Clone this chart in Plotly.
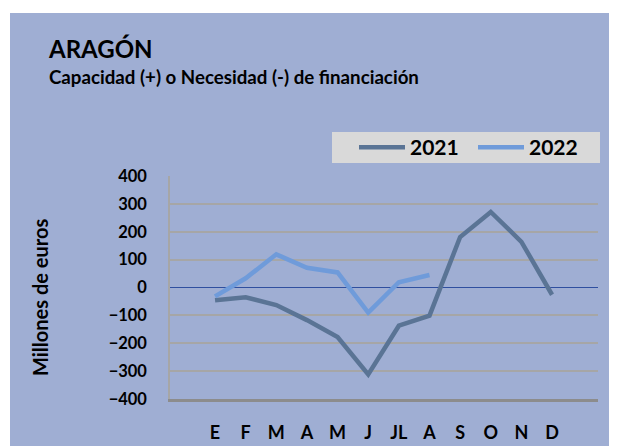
import plotly.graph_objects as go

months = ["E", "F", "M", "A", "M", "J", "JL", "A", "S", "O", "N", "D"]
v2021 = [-46, -35, -63, -117, -178, -312, -137, -101, 181, 271, 164, -26]
v2022 = [-32, 33, 119, 71, 54, -90, 19, 45]
yticks = [400, 300, 200, 100, 0, -100, -200, -300, -400]

OFF = 8  # page body margin
W, H = 617 - OFF, 446 - OFF
L, R, T, B = 170 - OFF, 598 - OFF, 176 - OFF, 399 - OFF
pw, ph = R - L, B - T

def px(x):
    return (x - OFF - L) / pw

def py(y):
    return (B - (y - OFF)) / ph

FONT = "Lato"
fig = go.Figure()
fig.add_trace(go.Scatter(x=list(range(len(v2021))), y=v2021, mode="lines", name="2021",
                         line=dict(color="#5A7495", width=4.5)))
fig.add_trace(go.Scatter(x=list(range(len(v2022))), y=v2022, mode="lines", name="2022",
                         line=dict(color="#6F9BDA", width=4.5)))

shapes = [
    dict(type="rect", xref="paper", yref="paper", x0=px(10), x1=px(640), y0=py(470), y1=py(13),
         fillcolor="#9FAED3", line=dict(width=0), layer="below"),
    dict(type="rect", xref="paper", yref="paper", x0=px(332), x1=px(600), y0=py(163), y1=py(132),
         fillcolor="#D9D9D9", line=dict(width=0), layer="below"),
]

fig.update_layout(
    width=W, height=H,
    margin=dict(l=L, r=W - R, t=T, b=H - B, autoexpand=False),
    paper_bgcolor="white",
    plot_bgcolor="white",
    shapes=shapes,
    showlegend=True,
    legend=dict(orientation="h", x=px(354), y=py(147.5), xanchor="left", yanchor="middle",
                bgcolor="rgba(0,0,0,0)", font=dict(family=FONT, size=21, color="black", weight="bold"),
                entrywidth=58, tracegroupgap=0, itemwidth=46),
    xaxis=dict(range=[-1.47, 12.5], tickvals=list(range(12)), ticktext=months, automargin=False,
               showgrid=False, zeroline=False, showline=True, linecolor="#8C8C8C", linewidth=2.5,
               ticks="", tickfont=dict(family=FONT, size=18, color="black", weight="bold"),
               ticklabelstandoff=16),
    yaxis=dict(range=[-400, 400], tickvals=yticks, showgrid=True, gridcolor="#A6A6A6", gridwidth=1.5,
               zeroline=True, zerolinecolor="#2F4F9F", zerolinewidth=1, automargin=False,
               showline=True, linecolor="#A6A6A6", linewidth=1.5, ticks="",
               tickfont=dict(family=FONT, size=16.5, color="black", weight="bold"),
               ticklabelstandoff=18),
    annotations=[
        dict(text="ARAGÓN", xref="paper", yref="paper", x=px(46), y=py(49), xanchor="left", yanchor="middle",
             showarrow=False, font=dict(family=FONT, size=24, color="black", weight="bold")),
        dict(text="Capacidad (+) o Necesidad (-) de financiación", xref="paper", yref="paper",
             x=px(47), y=py(77), xanchor="left", yanchor="middle", showarrow=False,
             font=dict(family=FONT, size=18.7, color="black", weight="bold")),
        dict(text="Millones de euros", xref="paper", yref="paper", x=px(40), y=py(298), textangle=-90,
             xanchor="center", yanchor="middle", showarrow=False,
             font=dict(family=FONT, size=20, color="black", weight="bold")),
    ],
)

fig.write_html("out.html")
